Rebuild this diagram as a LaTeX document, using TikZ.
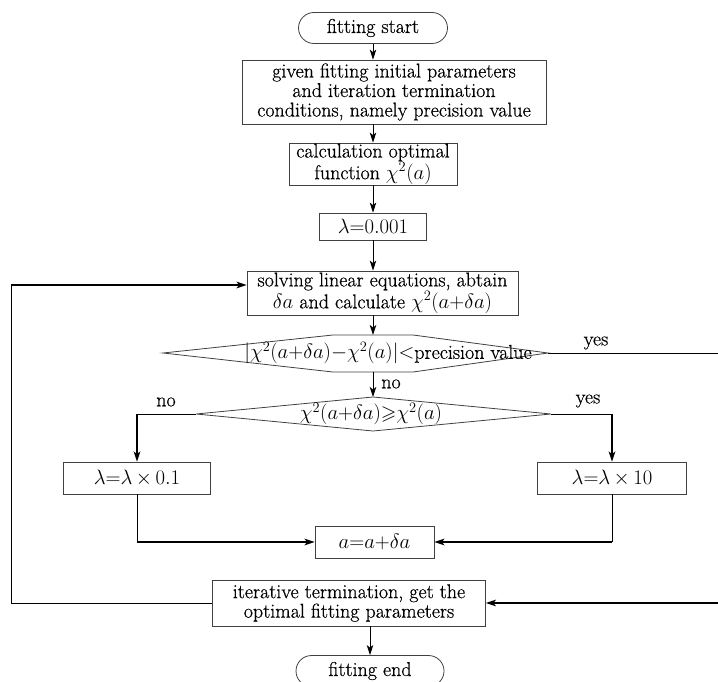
\documentclass[tikz,border=0pt]{standalone}
\usepackage{amssymb}
\usepackage{fontspec}
\setmainfont{Latin Modern Roman}[UprightFeatures={FakeBold=0.6}]
\usetikzlibrary{shapes.misc,arrows.meta}
\begin{document}
\begin{tikzpicture}[x=1pt,y=-1pt,
  every node/.style={font=\fontsize{20}{19.5}\selectfont, inner sep=0pt, align=center},
  box/.style={draw=black!75, line width=0.8pt},
  term/.style={draw=black!75, line width=0.8pt, rounded rectangle},
  conn/.style={line width=0.9pt},
  boldconn/.style={line width=1.7pt},
  arr/.style={-{Stealth[length=10pt,width=6.5pt,inset=2.5pt]}}]
\useasboundingbox (0,0) rectangle (718,682);

% nodes
\node[term, minimum width=149pt, minimum height=31pt] (start) at (373,28) {fitting start};
\node[box, minimum width=304pt, minimum height=64pt] (b2) at (394,92)
  {given fitting initial parameters\\ and iteration termination\\ conditions, namely precision value};
\node[box, minimum width=168pt, minimum height=42pt] (b3) at (373,164)
  {calculation optimal\\ function $\chi^2(a)$};
\node[box, minimum width=107pt, minimum height=27pt] (b4) at (373,226.5) {$\lambda{=}0.001$};
\node[box, minimum width=271pt, minimum height=44pt] (b5) at (382.5,293)
  {solving linear equations, abtain\\ $\delta a$ and calculate $\chi^2(a{+}\delta a)$};

% hexagon decision
\coordinate (d1l) at (163,353);
\coordinate (d1tl) at (333,335);
\coordinate (d1tr) at (413,335);
\coordinate (d1r) at (548,353);
\coordinate (d1br) at (413,372);
\coordinate (d1bl) at (333,372);
\coordinate (d1t) at (373,335);
\coordinate (d1b) at (373,372);
\draw[box] (d1l) -- (d1tl) -- (d1tr) -- (d1r) -- (d1br) -- (d1bl) -- cycle;
\node (d1) at (388,353) {$|\chi^2(a{+}\delta a){-}\chi^2(a)|{<}$precision value};

% diamond decision
\coordinate (d2l) at (196,414);
\coordinate (d2t) at (373,397);
\coordinate (d2r) at (551,414);
\coordinate (d2b) at (373,431);
\draw[box] (d2l) -- (d2t) -- (d2r) -- (d2b) -- cycle;
\node (d2) at (371,414) {$\chi^2(a{+}\delta a){\geqslant}\chi^2(a)$};

\node[box, minimum width=147pt, minimum height=32pt] (lam1) at (137,478) {$\lambda{=}\lambda{\,\times\,}0.1$};
\node[box, minimum width=149pt, minimum height=32pt] (lam2) at (612,478) {$\lambda{=}\lambda{\,\times\,}10$};
\node[box, minimum width=119pt, minimum height=32pt] (abox) at (374.5,542) {$a{=}a{+}\delta a$};
\node[box, minimum width=273pt, minimum height=46pt] (iter) at (349,603)
  {iterative termination, get the\\ optimal fitting parameters};
\node[term, minimum width=148pt, minimum height=31pt] (endn) at (370,671) {fitting end};

% labels
\node (yes1) at (596,343) {yes};
\node (no1) at (391,384) {no};
\node (no2) at (166,402) {no};
\node (yes2) at (588,401) {yes};

% connectors
\draw[conn,arr] (start.south) -- (start.south |- b2.north);
\draw[conn,arr] (b3.north |- b2.south) -- (b3.north);
\draw[conn,arr] (b3.south) -- (b4.north);
\draw[conn,arr] (b4.south) -- (b4.south |- b5.north);
\draw[conn,arr] (b4.south |- b5.south) -- (d1t);
\draw[conn,arr] (d1b) -- (d2t);

\draw[conn] (d2l) -- (lam1.north |- d2l);
\draw[boldconn,arr] (lam1.north |- d2l) -- (lam1.north);
\draw[conn] (d2r) -- (lam2.north |- d2r);
\draw[boldconn,arr] (lam2.north |- d2r) -- (lam2.north);

\draw[conn] (lam1.south) -- (lam1.south |- abox.west);
\draw[boldconn,arr] (lam1.south |- abox.west) -- (abox.west);
\draw[conn] (lam2.south) -- (lam2.south |- abox.east);
\draw[boldconn,arr] (lam2.south |- abox.east) -- (abox.east);

\coordinate (rc1) at (725,353);
\coordinate (rc2) at (725,603);
\draw[conn] (d1r) -- (rc1) -- (rc2);
\draw[boldconn,arr] (rc2) -- (iter.east);

\coordinate (lc1) at (11,603);
\coordinate (lc2) at (11,285);
\draw[conn] (iter.west) -- (lc1) -- (lc2);
\draw[boldconn,arr] (lc2) -- (lc2 -| b5.west);

\draw[conn,arr] (iter.south -| endn.north) -- (endn.north);
\end{tikzpicture}
\end{document}
